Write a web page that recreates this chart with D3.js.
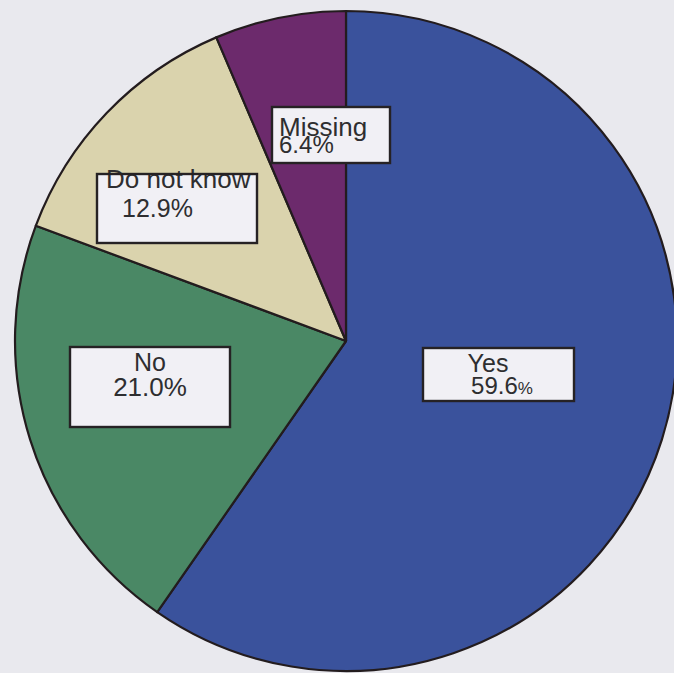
<!DOCTYPE html>
<html>
<head>
<meta charset="utf-8">
<script src="https://cdn.jsdelivr.net/npm/d3@7"></script>
<style>
  html, body { margin: 0; padding: 0; background: #e9e9ee; }
  svg { display: block; }
  text { font-family: "Liberation Sans", Arial, sans-serif; fill: #2e2e30; }
</style>
</head>
<body>
<svg id="chart" width="674" height="673"></svg>
<script>
// Survey answers, in percent
const categories = ["Yes", "No", "Do not know", "Missing"];
const values = [59.6, 21.0, 12.9, 6.4];
const valueLabels = ["59.6", "21.0", "12.9", "6.4"];

const colors = ["#3a529c", "#4a8865", "#dad3ad", "#6c2a6c"];

const W = 674, H = 673;
const cx = 346, cy = 341, rx = 331, ry = 330;

// Label boxes per slice: box rect, then position/size of the name and value lines
const labelLayout = [
  { x: 423, y: 348, w: 151, h: 53, anchor: "middle",
    a: { dx: 65, dy: 24, size: 25 }, b: { dx: 79, dy: 46, size: 24, pct: 17 } },
  { x: 70, y: 347, w: 160, h: 80, anchor: "middle",
    a: { dx: 80, dy: 24, size: 25 }, b: { dx: 80, dy: 49, size: 26 } },
  { x: 97, y: 174, w: 160, h: 69, anchor: "start",
    a: { dx: 9, dy: 14, size: 26 }, b: { dx: 25, dy: 43, size: 25 } },
  { x: 272, y: 107, w: 118, h: 56, anchor: "start",
    a: { dx: 7, dy: 29, size: 26 }, b: { dx: 7, dy: 46, size: 24 } }
];

const svg = d3.select("#chart");

svg.append("rect").attr("width", W).attr("height", H).attr("fill", "#e9e9ee");

const pie = d3.pie().sort(null).value(d => d);
const arcs = pie(values);
const arc = d3.arc().innerRadius(0).outerRadius(ry);
const color = d3.scaleOrdinal().domain(categories).range(colors);

const g = svg.append("g")
  .attr("transform", `translate(${cx},${cy}) scale(${rx / ry},1)`);

g.selectAll("path")
  .data(arcs)
  .join("path")
  .attr("d", arc)
  .attr("fill", (d, i) => color(categories[i]))
  .attr("stroke", "#231c1e")
  .attr("stroke-width", 2.2)
  .attr("stroke-linejoin", "round")
  .attr("vector-effect", "non-scaling-stroke");

// Labels: filled box, one two-line text, then the box outline on top
const labels = svg.append("g");
categories.forEach((cat, i) => {
  const L = labelLayout[i];
  const lg = labels.append("g").attr("transform", `translate(${L.x},${L.y})`);
  lg.append("rect")
    .attr("width", L.w).attr("height", L.h)
    .attr("fill", "#f1f0f5");
  const t = lg.append("text").attr("text-anchor", L.anchor);
  t.append("tspan")
    .attr("x", L.a.dx).attr("y", L.a.dy)
    .attr("font-size", L.a.size)
    .text(cat);
  const v = t.append("tspan")
    .attr("x", L.b.dx).attr("y", L.b.dy)
    .attr("font-size", L.b.size);
  v.append("tspan").text(valueLabels[i]);
  v.append("tspan").attr("font-size", L.b.pct || L.b.size).text("%");
  lg.append("rect")
    .attr("width", L.w).attr("height", L.h)
    .attr("fill", "none")
    .attr("stroke", "#262224")
    .attr("stroke-width", 2.4);
});
</script>
</body>
</html>
